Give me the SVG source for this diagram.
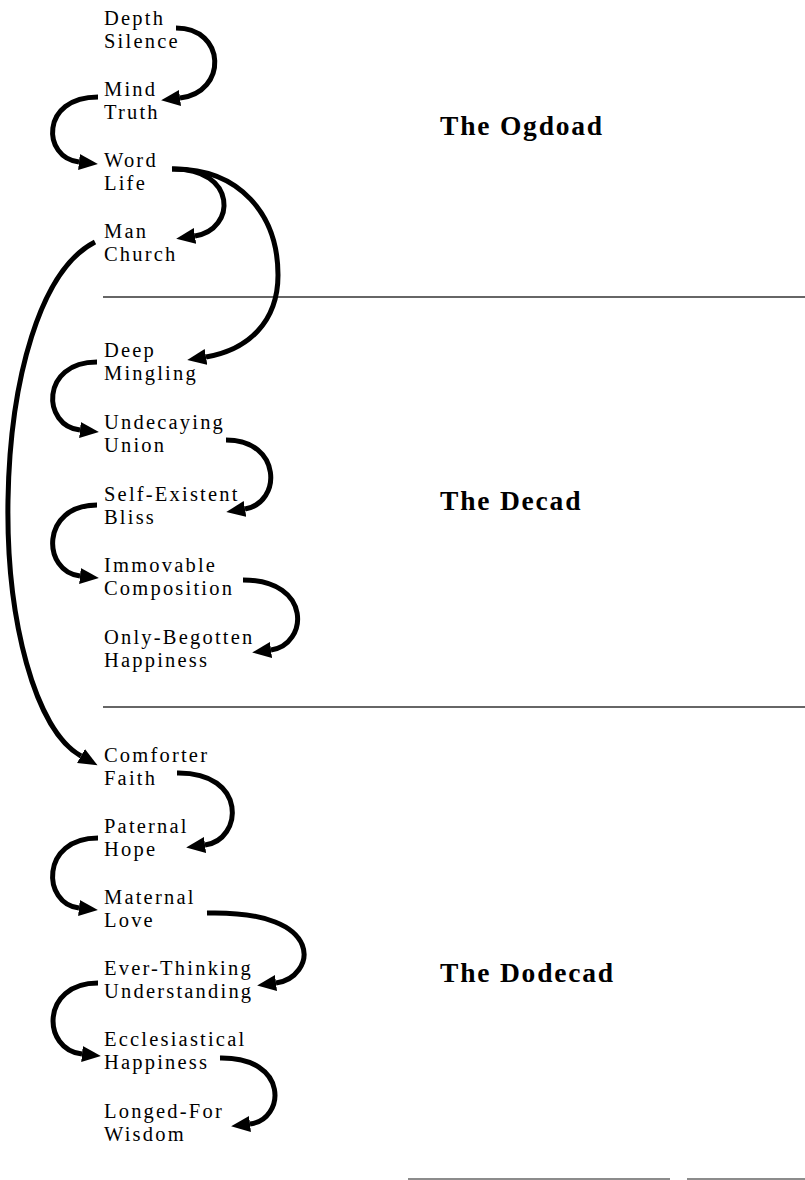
<svg xmlns="http://www.w3.org/2000/svg" width="805" height="1180" viewBox="0 0 805 1180">
  <style>
    .lbl { font-family: "Liberation Serif", "Times New Roman", serif; font-size: 20.5px; letter-spacing: 2.2px; fill: #000; }
    .ttl { font-family: "Liberation Serif", "Times New Roman", serif; font-size: 27.5px; font-weight: bold; letter-spacing: 1.8px; fill: #000; }
    .arr { fill: none; stroke: #000; stroke-width: 5; stroke-linecap: butt; marker-end: url(#ah); }
    .rule { stroke: #333; stroke-width: 1.5; }
    .rule2 { stroke: #666; stroke-width: 1.5; }
  </style>
  <defs>
    <marker id="ah" markerUnits="userSpaceOnUse" markerWidth="22" markerHeight="18" refX="0" refY="8" orient="auto" viewBox="0 0 22 16">
      <path d="M0,0 L19,8 L0,16 Z" fill="#000"/>
    </marker>
  </defs>
  <rect width="805" height="1180" fill="#fff"/>

  <g id="rules">
    <line class="rule" x1="103" y1="297" x2="805" y2="297"/>
    <line class="rule" x1="103" y1="707" x2="805" y2="707"/>
    <line class="rule2" x1="408" y1="1179" x2="670" y2="1179"/>
    <line class="rule2" x1="687" y1="1179" x2="805" y2="1179"/>
  </g>

  <g id="titles">
    <text id="title-ogdoad" class="ttl" x="440" y="135">The Ogdoad</text>
    <text id="title-decad" class="ttl" x="440" y="510">The Decad</text>
    <text id="title-dodecad" class="ttl" x="440" y="982">The Dodecad</text>
  </g>

  <g id="n1"><text class="lbl"><tspan x="104" y="25">Depth</tspan><tspan x="104" y="48">Silence</tspan></text></g>
  <g id="n2"><text class="lbl"><tspan x="104" y="96">Mind</tspan><tspan x="104" y="119">Truth</tspan></text></g>
  <g id="n3"><text class="lbl"><tspan x="104" y="167">Word</tspan><tspan x="104" y="190">Life</tspan></text></g>
  <g id="n4"><text class="lbl"><tspan x="104" y="238">Man</tspan><tspan x="104" y="261">Church</tspan></text></g>
  <g id="n5"><text class="lbl"><tspan x="104" y="357">Deep</tspan><tspan x="104" y="380">Mingling</tspan></text></g>
  <g id="n6"><text class="lbl"><tspan x="104" y="429">Undecaying</tspan><tspan x="104" y="452">Union</tspan></text></g>
  <g id="n7"><text class="lbl"><tspan x="104" y="501">Self-Existent</tspan><tspan x="104" y="524">Bliss</tspan></text></g>
  <g id="n8"><text class="lbl"><tspan x="104" y="572">Immovable</tspan><tspan x="104" y="595">Composition</tspan></text></g>
  <g id="n9"><text class="lbl"><tspan x="104" y="644">Only-Begotten</tspan><tspan x="104" y="667">Happiness</tspan></text></g>
  <g id="n10"><text class="lbl"><tspan x="104" y="762">Comforter</tspan><tspan x="104" y="785">Faith</tspan></text></g>
  <g id="n11"><text class="lbl"><tspan x="104" y="833">Paternal</tspan><tspan x="104" y="856">Hope</tspan></text></g>
  <g id="n12"><text class="lbl"><tspan x="104" y="904">Maternal</tspan><tspan x="104" y="927">Love</tspan></text></g>
  <g id="n13"><text class="lbl"><tspan x="104" y="975">Ever-Thinking</tspan><tspan x="104" y="998">Understanding</tspan></text></g>
  <g id="n14"><text class="lbl"><tspan x="104" y="1046">Ecclesiastical</tspan><tspan x="104" y="1069">Happiness</tspan></text></g>
  <g id="n15"><text class="lbl"><tspan x="104" y="1118">Longed-For</tspan><tspan x="104" y="1141">Wisdom</tspan></text></g>

  <g id="connectors">
    <path class="arr" d="M176,28 C226,28 228,92 180,98"/>
    <path class="arr" d="M98,97 C40,97 42,158 79,162"/>
    <path class="arr" d="M172,169 C238,168 236,230 195,236"/>
    <path class="arr" d="M172,169 C240,168 278,215 278,275 C278,322 248,350 206,357"/>
    <path class="arr" d="M95,242 C40,270 10,380 8,500 C6,620 35,730 81,756"/>
    <path class="arr" d="M97,362 C40,362 42,426 80,430"/>
    <path class="arr" d="M226,440 C282,440 282,503 245,509"/>
    <path class="arr" d="M97,505 C40,505 42,572 80,576"/>
    <path class="arr" d="M243,580 C313,580 308,645 271,650"/>
    <path class="arr" d="M177,773 C248,772 243,840 205,845"/>
    <path class="arr" d="M98,838 C40,838 42,904 79,908"/>
    <path class="arr" d="M207,913 C330,910 315,978 276,983"/>
    <path class="arr" d="M98,983 C40,983 42,1050 82,1054"/>
    <path class="arr" d="M220,1058 C290,1057 285,1120 250,1124"/>
  </g>
</svg>
